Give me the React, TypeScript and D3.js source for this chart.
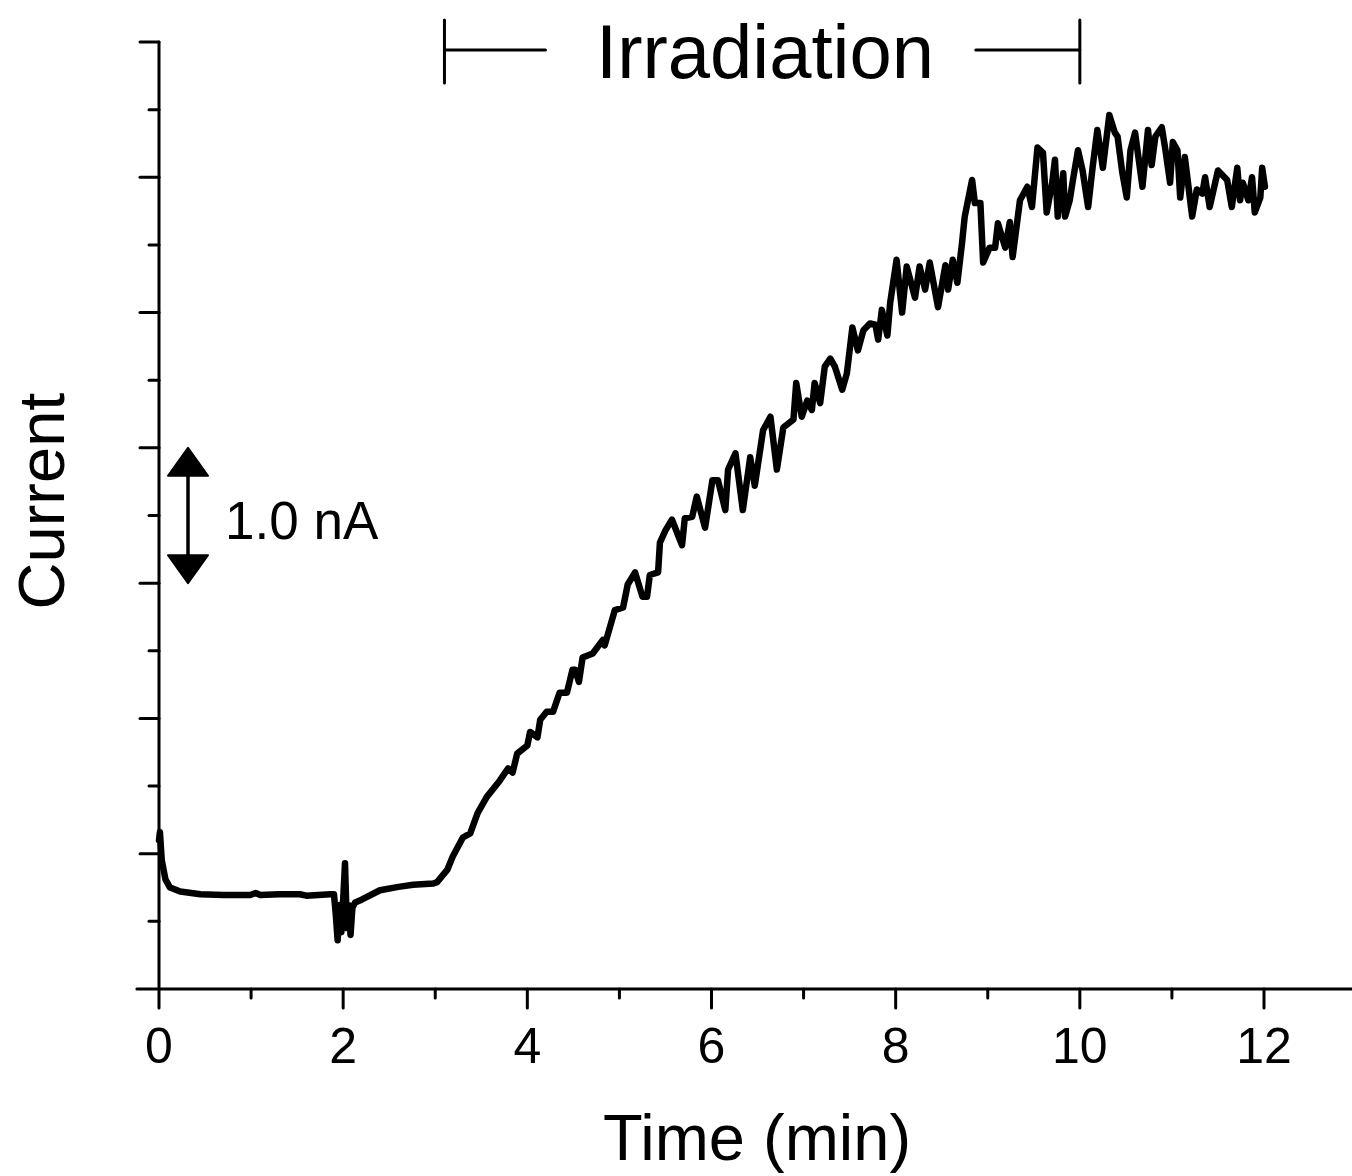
import React, { useEffect } from 'react';
import * as d3 from 'd3';

// trace: time in minutes, current in nA above the axis origin
const timeMin = [
  0.0, 0.01, 0.03, 0.07, 0.12, 0.23, 0.45, 0.7, 0.99, 1.05, 1.1, 1.3, 1.53, 1.6, 1.86,
  1.9, 1.92, 1.94, 1.96, 1.98, 2.0, 2.02, 2.04, 2.06, 2.08, 2.1, 2.13, 2.2, 2.4, 2.6, 2.76, 2.98,
  3.02, 3.13, 3.19, 3.3, 3.38, 3.46, 3.56, 3.7, 3.79, 3.84, 3.89, 4.0, 4.03, 4.11, 4.14, 4.21,
  4.28, 4.35, 4.43, 4.49, 4.52, 4.56, 4.6, 4.71, 4.82, 4.84, 4.95, 5.04, 5.09, 5.17, 5.25, 5.3,
  5.33, 5.42, 5.44, 5.5, 5.57, 5.68, 5.71, 5.79, 5.84, 5.93, 6.01, 6.07, 6.15, 6.18, 6.26, 6.34,
  6.42, 6.47, 6.56, 6.64, 6.71, 6.78, 6.89, 6.92, 6.98, 7.04, 7.09, 7.12, 7.18, 7.23, 7.29, 7.34,
  7.42, 7.47, 7.53, 7.59, 7.65, 7.72, 7.78, 7.81, 7.85, 7.91, 7.94, 8.01, 8.07, 8.12, 8.21, 8.26,
  8.32, 8.37, 8.46, 8.54, 8.57, 8.62, 8.67, 8.72, 8.75, 8.83, 8.86, 8.92, 8.95, 9.02, 9.08, 9.11,
  9.19, 9.24, 9.27, 9.35, 9.43, 9.48, 9.54, 9.6, 9.64, 9.7, 9.73, 9.76, 9.82, 9.84, 9.89, 9.93,
  9.98, 10.03, 10.09, 10.14, 10.19, 10.25, 10.32, 10.38, 10.41, 10.46, 10.51, 10.55, 10.6, 10.68,
  10.74, 10.78, 10.82, 10.89, 10.93, 10.98, 11.01, 11.06, 11.09, 11.14, 11.22, 11.27, 11.33,
  11.36, 11.41, 11.5, 11.6, 11.65, 11.71, 11.74, 11.77, 11.83, 11.87, 11.9, 11.96, 11.98, 12.01,
];
const currentNA = [
  1.1, 1.16, 0.95, 0.81, 0.75, 0.72, 0.7, 0.695, 0.695, 0.71, 0.695, 0.7, 0.7, 0.69, 0.7,
  0.7, 0.55, 0.36, 0.62, 0.42, 0.66, 0.93, 0.45, 0.62, 0.4, 0.6, 0.64, 0.66, 0.73, 0.755, 0.77, 0.78,
  0.79, 0.88, 0.98, 1.12, 1.15, 1.3, 1.42, 1.54, 1.63, 1.6, 1.74, 1.8, 1.9, 1.86, 1.99, 2.05,
  2.05, 2.19, 2.19, 2.36, 2.36, 2.27, 2.45, 2.48, 2.58, 2.54, 2.8, 2.82, 2.99, 3.08, 2.9, 2.9,
  3.06, 3.08, 3.3, 3.39, 3.47, 3.28, 3.48, 3.49, 3.64, 3.41, 3.76, 3.76, 3.54, 3.84, 3.96, 3.54,
  3.93, 3.72, 4.13, 4.23, 3.84, 4.15, 4.21, 4.48, 4.23, 4.35, 4.28, 4.48, 4.33, 4.6, 4.66, 4.6,
  4.43, 4.55, 4.89, 4.72, 4.87, 4.92, 4.91, 4.8, 5.02, 4.83, 5.07, 5.39, 5.0, 5.34, 5.11, 5.34,
  5.17, 5.37, 5.04, 5.35, 5.17, 5.39, 5.22, 5.51, 5.71, 5.98, 5.81, 5.81, 5.37, 5.48, 5.48, 5.66,
  5.48, 5.67, 5.41, 5.83, 5.93, 5.78, 6.22, 6.18, 5.74, 5.96, 6.13, 5.71, 6.03, 5.71, 5.83, 6.0,
  6.2, 6.05, 5.78, 6.08, 6.35, 6.07, 6.46, 6.33, 6.3, 6.04, 5.85, 6.2, 6.33, 5.93,
  6.35, 6.09, 6.3, 6.37, 6.2, 5.96, 6.26, 6.2, 5.85, 6.15, 5.71, 5.91, 5.88,
  6.0, 5.78, 6.05, 5.98, 5.78, 6.07, 5.83, 5.96, 5.83, 6.0, 5.74, 5.85, 6.07, 5.93,
];

const xMajorTicks = [0, 2, 4, 6, 8, 10, 12];
const xMinorTicks = [1, 3, 5, 7, 9, 11, 13];
const yMajorTicks = [1, 2, 3, 4, 5, 6, 7];
const yMinorTicks = [0.5, 1.5, 2.5, 3.5, 4.5, 5.5, 6.5];
const irradiation = [3.1, 10.0];
const scaleBar = [3, 4];

const FONT = '"Liberation Sans", Arial, Helvetica, sans-serif';

export default function App() {
  useEffect(() => {
    document.body.style.margin = '0';
  }, []);

  const W = 1352;
  const H = 1176;
  const x = d3.scaleLinear().domain([0, 12]).range([159, 1264]);
  const y = d3.scaleLinear().domain([0, 7]).range([989, 42]);

  const points = timeMin.map((t, i) => [t, currentNA[i]] as [number, number]);
  const line = d3
    .line<[number, number]>()
    .x((d) => x(d[0]))
    .y((d) => y(d[1]));

  const axisY = y(0);
  const barX = 188;
  const headW = 20;
  const headH = 28;
  const barTop = y(scaleBar[1]);
  const barBot = y(scaleBar[0]);

  const irrY = 50;
  const irrL = x(irradiation[0]);
  const irrR = x(irradiation[1]);

  return (
    <svg width={W} height={H} style={{ display: 'block', background: '#fff' }} fontFamily={FONT}>
      {/* axes */}
      <g stroke="#000" strokeWidth={3} strokeLinecap="round">
        <line x1={x(-0.24)} x2={W + 5} y1={axisY} y2={axisY} />
        <line x1={x(0)} x2={x(0)} y1={y(7)} y2={axisY} />
        {xMajorTicks.map((t) => (
          <line key={'xM' + t} x1={x(t)} x2={x(t)} y1={axisY} y2={axisY + 19} />
        ))}
        {xMinorTicks.map((t) => (
          <line key={'xm' + t} x1={x(t)} x2={x(t)} y1={axisY} y2={axisY + 9} />
        ))}
        {yMajorTicks.map((v) => (
          <line key={'yM' + v} x1={x(0) - 19} x2={x(0)} y1={y(v)} y2={y(v)} />
        ))}
        {yMinorTicks.map((v) => (
          <line key={'ym' + v} x1={x(0) - 10} x2={x(0)} y1={y(v)} y2={y(v)} />
        ))}
      </g>

      {xMajorTicks.map((t) => (
        <text key={'xl' + t} x={x(t)} y={1063} textAnchor="middle" fontSize={50} fill="#000">
          {t}
        </text>
      ))}
      <text x={757} y={1160} textAnchor="middle" fontSize={65} fill="#000">
        Time (min)
      </text>
      <text
        transform={`translate(64, ${501}) rotate(-90)`}
        textAnchor="middle"
        fontSize={65}
        fill="#000"
      >
        Current
      </text>

      {/* scale bar */}
      <line x1={barX} x2={barX} y1={barTop + headH - 2} y2={barBot - headH + 2} stroke="#000" strokeWidth={3.5} />
      <path
        d={`M${barX},${barTop} L${barX + headW},${barTop + headH} L${barX - headW},${barTop + headH} Z`}
        fill="#000"
        stroke="#000"
        strokeWidth={2}
        strokeLinejoin="round"
      />
      <path
        d={`M${barX},${barBot} L${barX + headW},${barBot - headH} L${barX - headW},${barBot - headH} Z`}
        fill="#000"
        stroke="#000"
        strokeWidth={2}
        strokeLinejoin="round"
      />
      <text x={225} y={539} fontSize={53} fill="#000">
        1.0 nA
      </text>

      {/* irradiation bracket */}
      <g stroke="#000" strokeWidth={3} strokeLinecap="round">
        <line x1={irrL} x2={irrL} y1={20} y2={83} />
        <line x1={irrL} x2={irrL + 101} y1={irrY} y2={irrY} />
        <line x1={irrR} x2={irrR} y1={20} y2={83} />
        <line x1={irrR - 104} x2={irrR} y1={irrY} y2={irrY} />
      </g>
      <text x={765} y={78} textAnchor="middle" fontSize={76} fill="#000">
        Irradiation
      </text>

      {/* trace */}
      <path
        d={line(points) ?? ''}
        fill="none"
        stroke="#000"
        strokeWidth={6.5}
        strokeLinejoin="round"
        strokeLinecap="round"
      />
    </svg>
  );
}
